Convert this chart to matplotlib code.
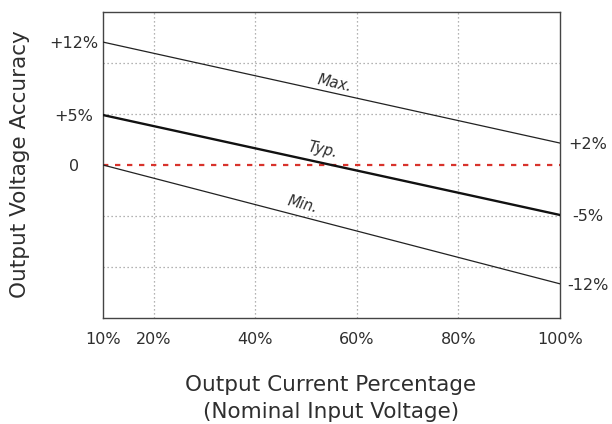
import matplotlib
matplotlib.use("Agg")
import matplotlib.pyplot as plt
import numpy as np

# ---- data (schematic chart: y in grid units, 1 unit = one grid step) ----
x_pct = [10, 100]
max_line = [2.41, 0.43]
typ_line = [0.98, -0.98]
min_line = [0.0, -2.33]
zero_line = [0.0, 0.0]

x_ticks = [10, 20, 40, 60, 80, 100]
x_tick_labels = ["10%", "20%", "40%", "60%", "80%", "100%"]
x_grid = [20, 40, 60, 80]
y_grid = [-2, -1, 1, 2]

left_tick_pos = [2.41, 0.98, 0.0]
left_tick_labels = ["+12%", "+5%", "0"]
right_tick_pos = [0.43, -0.98, -2.33]
right_tick_labels = ["+2%", "-5%", "-12%"]

curve_names = ["Max.", "Typ.", "Min."]
label_x = [55.6, 53.2, 49.3]
label_offset_px = [10, 13, 12]

plt.rcParams['font.family'] = ['DejaVu Sans']
TXT = "#2e2e2e"
PX = 0.72  # points per pixel at 100 dpi

fig = plt.figure(figsize=(6.12, 4.24), dpi=100)
W, H = 612, 424
ax = fig.add_axes([103 / W, (H - 318) / H, (560 - 103) / W, (318 - 12) / H])
ax.set_xlim(10, 100)
ax.set_ylim(-3, 3)

# grid
for gx in x_grid:
    ax.axvline(gx, color="#9a9a9a", lw=0.9, ls=(0, (1, 2.2)), zorder=1)
for gy in y_grid:
    ax.axhline(gy, color="#9a9a9a", lw=0.9, ls=(0, (1, 2.2)), zorder=1)

# zero reference
ax.plot(x_pct, zero_line, color="#d8332c", lw=1.6, ls=(0, (2.4, 3.0)), zorder=2)

# curves
ax.plot(x_pct, max_line, color="#222222", lw=0.9, zorder=3)
ax.plot(x_pct, typ_line, color="#111111", lw=1.7, zorder=3)
ax.plot(x_pct, min_line, color="#222222", lw=0.9, zorder=3)

for sp in ax.spines.values():
    sp.set_color("#444444")
    sp.set_linewidth(1.0)

ax.set_xticks(x_ticks, x_tick_labels)
ax.set_yticks(left_tick_pos, left_tick_labels)
ax.tick_params(axis="both", length=0, labelsize=11.5, colors=TXT)
ax.tick_params(axis="x", pad=14 * PX)
ax.tick_params(axis="y", pad=29 * PX)
for lab in ax.get_yticklabels():
    lab.set_horizontalalignment("center")

ax2 = ax.twinx()
ax2.set_ylim(-3, 3)
ax2.set_yticks(right_tick_pos, right_tick_labels)
ax2.tick_params(axis="y", length=0, labelsize=11.5, colors=TXT, pad=28 * PX)
for lab in ax2.get_yticklabels():
    lab.set_horizontalalignment("center")
for sp in ax2.spines.values():
    sp.set_visible(False)

# curve labels
fig.canvas.draw()
for name, series, lx, off in zip(curve_names, [max_line, typ_line, min_line], label_x, label_offset_px):
    ly = np.interp(lx, x_pct, series)
    p0 = ax.transData.transform((x_pct[0], series[0]))
    p1 = ax.transData.transform((x_pct[1], series[1]))
    ang = np.degrees(np.arctan2(p1[1] - p0[1], p1[0] - p0[0]))
    ax.annotate(name, (lx, ly), xytext=(0, off * PX), textcoords="offset points",
                ha="center", va="center", rotation=ang, rotation_mode="anchor",
                fontsize=10.5, style="italic", color=TXT, zorder=4)

fig.text(331 / W, 1 - 385 / H, "Output Current Percentage", fontsize=15.5,
         color=TXT, ha="center", va="center")
fig.text(331 / W, 1 - 412 / H, "(Nominal Input Voltage)", fontsize=15.5,
         color=TXT, ha="center", va="center")
fig.text(20 / W, 1 - 164 / H, "Output Voltage Accuracy", rotation=90, fontsize=15.5,
         color=TXT, ha="center", va="center")

fig.savefig("out.png", dpi=100)
